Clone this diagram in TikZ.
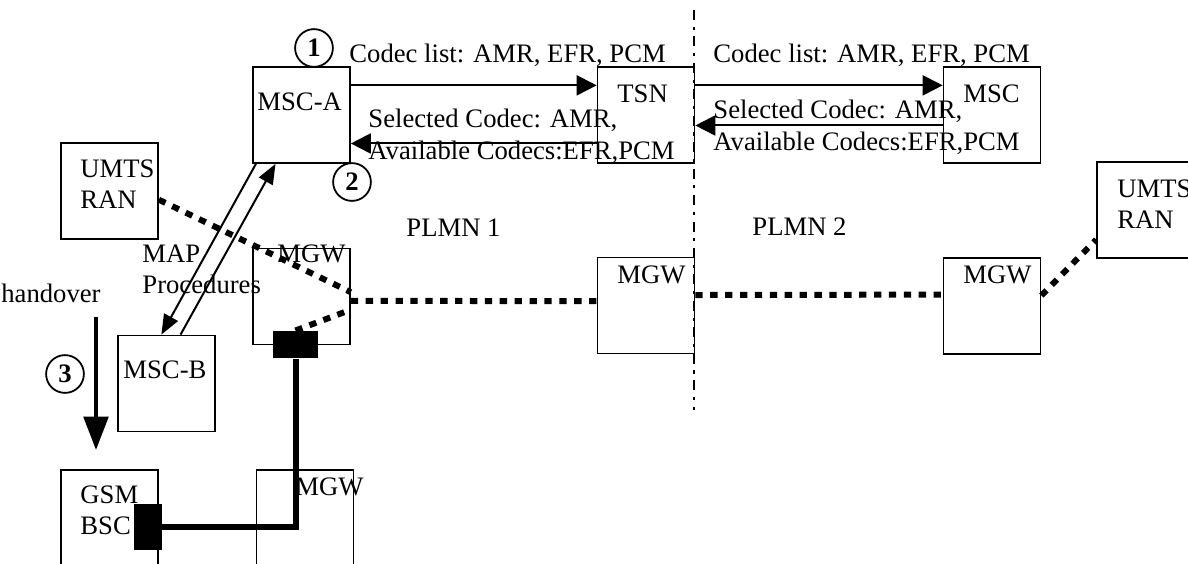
\documentclass[tikz,border=0pt]{standalone}
\usepackage{fontspec}
\setmainfont{Liberation Serif}
\usetikzlibrary{arrows.meta}

\begin{document}
\begin{tikzpicture}[x=0.45pt,y=-0.45pt,
  b/.style={draw,line width=0.8pt,minimum width=43.6pt,minimum height=43.2pt,inner sep=0pt},
  t/.style={inner sep=0pt,anchor=base west,font=\fontsize{12}{14}\selectfont},
  tt/.style={inner sep=0pt,anchor=north west,align=left,font=\fontsize{12}{14}\selectfont},
  n/.style={draw,circle,line width=0.8pt,minimum size=17pt,inner sep=0pt,font=\fontsize{12}{14}\selectfont\bfseries},
  sw/.style={fill=black,inner sep=0pt},
  tdm/.style={line width=2.7pt,dash pattern=on 3.3pt off 3.4pt},
  >={Triangle[length=9pt,width=9pt]}]
\useasboundingbox (0,0) rectangle (1188,564);
\node[b] (msca) at (301.5,115) {};
\node[b] (tsn) at (646,115) {};
\node[b] (msc) at (992,115) {};
\node[b] (ranL) at (109.5,191) {};
\node[b] (mgwA) at (301.5,296.5) {};
\node[b] (mgwB) at (646,305.5) {};
\node[b] (mgwC) at (992,306) {};
\node[b] (ranR) at (1145.5,210) {};
\node[b] (mscb) at (166.5,383.5) {};
\node[b] (bsc) at (109.5,518) {};
\node[b] (mgwD) at (305,518) {};
\node[sw,minimum width=20.2pt,minimum height=12.2pt] (sw1) at (295.5,344.5) {};
\node[sw,minimum width=12.6pt,minimum height=20.7pt] (sw2) at (148,527) {};
\node[t] (mscaT) at (257,110) {MSC-A};
\node[t] (tsnT) at (617,102) {TSN};
\node[t] (mscT) at (963,102) {MSC};
\node[tt] (ranLT) at (80,159) {UMTS\\RAN};
\node[tt] (ranRT) at (1117,179) {UMTS\\RAN};
\node[t] (mgwAT) at (277,262) {MGW};
\node[t] (mgwBT) at (617,283) {MGW};
\node[t] (mgwCT) at (963,283) {MGW};
\node[t] (mgwDT) at (295,495) {MGW};
\node[t] (mscbT) at (123,378) {MSC-B};
\node[tt] (bscT) at (80,485) {GSM\\BSC};
\node[t] (plmnA) at (406,236) {PLMN 1};
\node[t] (plmnB) at (752,235) {PLMN 2};
\node[t,anchor=base east] (hoT) at (101,302) {handover};
\node[tt] (mapT) at (142,244) {MAP\\Procedures};
\node[t] (listA) at (349,62) {Codec list: AMR, EFR, PCM};
\node[t] (listB) at (713,62) {Codec list: AMR, EFR, PCM};
\node[tt] (selA) at (368,109) {Selected Codec: AMR,\\Available Codecs:EFR,PCM};
\node[tt] (selB) at (713,100) {Selected Codec: AMR,\\Available Codecs:EFR,PCM};
\node[n] (c1) at (314,48) {1};
\node[n] (c2) at (352,182) {2};
\node[n] (c3) at (65,374) {3};
\coordinate (bTop) at (694,10);
\coordinate (bBot) at (694,410);
\coordinate (hoA) at (96,317);
\coordinate (hoB) at (96,450);
\draw[line width=1.3pt,dash pattern=on 4.5pt off 3pt on 1.4pt off 3pt] (bTop) -- (bBot);
\draw[->,line width=0.9pt] (msca.31) -- (tsn.149);
\draw[->,line width=0.9pt] (tsn.210) -- (msca.-30);
\draw[->,line width=0.9pt] (tsn.31) -- (msc.149);
\draw[->,line width=0.9pt] (msc.192) -- (tsn.-12);
\draw[->,line width=0.9pt,>={Triangle[length=9pt,width=7pt]}] (msca.227) -- (mscb.96);
\draw[->,line width=0.9pt,>={Triangle[length=9pt,width=7pt]}] (mscb.74) -- (msca.242);
\draw[->,line width=1.8pt,>={Triangle[length=15pt,width=11pt]}] (hoA) -- (hoB);
\draw[tdm] (ranL.-10) -- (mgwA.5);
\draw[tdm] (mgwA.-5) -- (mgwB.175);
\draw[tdm] (sw1.north) -- (mgwA.-15);
\draw[tdm] (mgwB.12) -- (mgwC.167);
\draw[tdm] (mgwC.12) -- (ranR.211);
\draw[line width=2.7pt] (sw1.south) |- (sw2.east);
\end{tikzpicture}
\end{document}
